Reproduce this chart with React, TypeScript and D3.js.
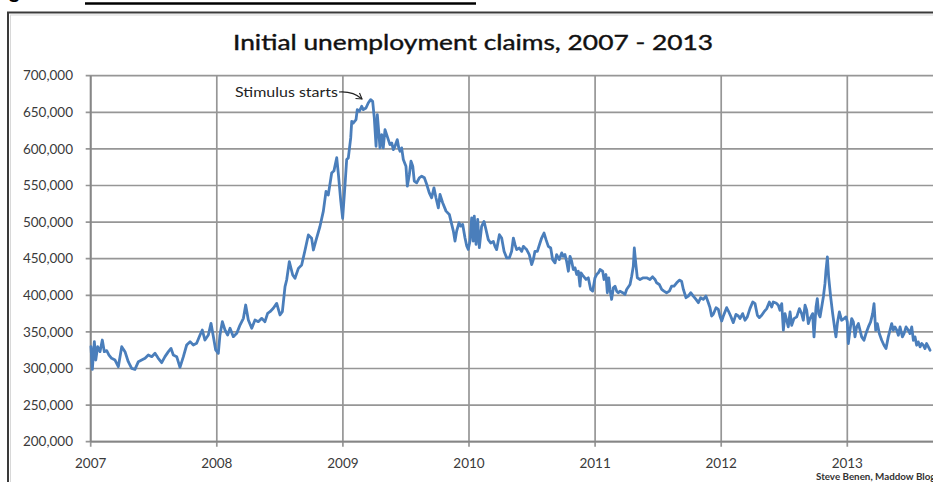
import React from "react";
import * as d3 from "d3";

const years = [
  2007.002, 2007.013, 2007.029, 2007.040, 2007.055, 2007.074, 2007.092, 2007.108, 2007.127, 2007.145,
  2007.166, 2007.193, 2007.219, 2007.246, 2007.272, 2007.298, 2007.325, 2007.351, 2007.378, 2007.404,
  2007.431, 2007.457, 2007.484, 2007.510, 2007.536, 2007.563, 2007.589, 2007.616, 2007.637, 2007.655,
  2007.682, 2007.708, 2007.735, 2007.761, 2007.788, 2007.814, 2007.840, 2007.867, 2007.885, 2007.906,
  2007.933, 2007.954, 2007.973, 2007.991, 2008.012, 2008.025, 2008.044, 2008.065, 2008.086, 2008.105,
  2008.131, 2008.158, 2008.184, 2008.211, 2008.229, 2008.250, 2008.277, 2008.303, 2008.329, 2008.356,
  2008.382, 2008.403, 2008.422, 2008.448, 2008.475, 2008.501, 2008.520, 2008.541, 2008.554, 2008.575,
  2008.602, 2008.620, 2008.647, 2008.673, 2008.700, 2008.726, 2008.752, 2008.766, 2008.787, 2008.818,
  2008.845, 2008.866, 2008.884, 2008.911, 2008.929, 2008.951, 2008.964, 2008.983, 2008.998, 2009.017,
  2009.030, 2009.043, 2009.062, 2009.070, 2009.083, 2009.104, 2009.114, 2009.130, 2009.149, 2009.162,
  2009.183, 2009.201, 2009.220, 2009.236, 2009.249, 2009.263, 2009.273, 2009.284, 2009.294, 2009.308,
  2009.320, 2009.334, 2009.347, 2009.360, 2009.373, 2009.387, 2009.400, 2009.413, 2009.431, 2009.443,
  2009.453, 2009.466, 2009.479, 2009.500, 2009.511, 2009.527, 2009.540, 2009.554, 2009.566, 2009.585,
  2009.606, 2009.625, 2009.646, 2009.665, 2009.685, 2009.704, 2009.722, 2009.738, 2009.757, 2009.770,
  2009.791, 2009.818, 2009.844, 2009.863, 2009.876, 2009.889, 2009.902, 2009.921, 2009.934, 2009.950,
  2009.968, 2009.982, 2009.994, 2010.008, 2010.021, 2010.034, 2010.042, 2010.056, 2010.069, 2010.082,
  2010.100, 2010.119, 2010.135, 2010.153, 2010.172, 2010.193, 2010.206, 2010.219, 2010.241, 2010.259,
  2010.278, 2010.299, 2010.320, 2010.338, 2010.352, 2010.365, 2010.378, 2010.399, 2010.418, 2010.431,
  2010.444, 2010.457, 2010.478, 2010.497, 2010.510, 2010.523, 2010.542, 2010.563, 2010.576, 2010.595,
  2010.611, 2010.629, 2010.648, 2010.663, 2010.682, 2010.695, 2010.716, 2010.735, 2010.748, 2010.761,
  2010.774, 2010.788, 2010.801, 2010.814, 2010.827, 2010.841, 2010.854, 2010.867, 2010.880, 2010.888,
  2010.907, 2010.928, 2010.946, 2010.965, 2010.981, 2010.999, 2011.012, 2011.026, 2011.039, 2011.060,
  2011.071, 2011.086, 2011.097, 2011.108, 2011.118, 2011.131, 2011.145, 2011.158, 2011.171, 2011.184,
  2011.197, 2011.219, 2011.237, 2011.250, 2011.277, 2011.290, 2011.303, 2011.311, 2011.322, 2011.335,
  2011.356, 2011.382, 2011.409, 2011.435, 2011.456, 2011.475, 2011.488, 2011.509, 2011.528, 2011.546,
  2011.567, 2011.589, 2011.607, 2011.626, 2011.647, 2011.668, 2011.686, 2011.700, 2011.721, 2011.739,
  2011.758, 2011.779, 2011.800, 2011.819, 2011.837, 2011.858, 2011.879, 2011.898, 2011.911, 2011.924,
  2011.937, 2011.959, 2011.977, 2011.990, 2012.004, 2012.017, 2012.043, 2012.057, 2012.075, 2012.096,
  2012.117, 2012.136, 2012.149, 2012.170, 2012.189, 2012.207, 2012.228, 2012.250, 2012.268, 2012.287,
  2012.302, 2012.321, 2012.339, 2012.361, 2012.382, 2012.400, 2012.413, 2012.435, 2012.453, 2012.466,
  2012.480, 2012.493, 2012.506, 2012.519, 2012.532, 2012.546, 2012.559, 2012.577, 2012.599, 2012.620,
  2012.638, 2012.651, 2012.665, 2012.678, 2012.691, 2012.704, 2012.725, 2012.736, 2012.752, 2012.762,
  2012.773, 2012.784, 2012.797, 2012.810, 2012.823, 2012.831, 2012.842, 2012.852, 2012.868, 2012.884,
  2012.902, 2012.910, 2012.921, 2012.937, 2012.955, 2012.974, 2012.990, 2013.000, 2013.008, 2013.021,
  2013.035, 2013.048, 2013.061, 2013.074, 2013.088, 2013.101, 2013.114, 2013.132, 2013.148, 2013.167,
  2013.185, 2013.201, 2013.212, 2013.225, 2013.238, 2013.254, 2013.273, 2013.291, 2013.307, 2013.325,
  2013.339, 2013.352, 2013.365, 2013.378, 2013.392, 2013.405, 2013.418, 2013.437, 2013.450, 2013.466,
  2013.484, 2013.497, 2013.511, 2013.524, 2013.537, 2013.550, 2013.563, 2013.577, 2013.590, 2013.603,
  2013.616, 2013.629, 2013.643, 2013.656,
];

// Initial claims, thousands
const claimsK = [
  329.8, 298.9, 336.7, 311.6, 329.8, 323.0, 338.9, 323.0, 324.4, 318.4,
  313.9, 311.6, 302.5, 329.8, 323.0, 309.3, 300.2, 298.9, 309.3, 311.6,
  313.9, 318.4, 316.2, 320.7, 313.9, 308.0, 316.2, 323.0, 327.5, 318.4,
  316.2, 301.6, 316.2, 332.1, 336.7, 332.1, 334.4, 345.8, 352.6, 338.9,
  345.8, 361.7, 343.5, 325.3, 320.7, 345.8, 364.0, 352.6, 345.8, 354.9,
  343.5, 348.0, 359.4, 368.5, 386.7, 366.3, 354.9, 366.3, 364.0, 368.5,
  364.0, 375.4, 377.6, 382.2, 389.0, 373.1, 377.6, 411.8, 420.9, 445.9,
  427.7, 423.2, 436.8, 441.4, 461.9, 482.4, 477.8, 461.9, 475.5, 494.0,
  515.0, 542.0, 537.0, 567.0, 570.0, 588.0, 566.0, 529.0, 505.0, 551.4,
  585.5, 587.7, 615.0, 637.7, 635.5, 640.0, 653.6, 651.4, 658.2, 653.6,
  655.9, 662.7, 667.3, 665.0, 642.3, 603.6, 646.8, 624.1, 601.4, 619.5,
  601.4, 626.4, 619.5, 612.7, 605.9, 608.2, 599.1, 603.6, 612.7, 601.4,
  596.8, 601.4, 585.5, 576.4, 549.1, 565.0, 583.2, 576.4, 555.9, 553.6,
  560.5, 562.7, 560.5, 551.4, 540.0, 533.2, 546.8, 533.2, 519.5, 537.7,
  526.4, 515.0, 510.5, 496.8, 487.7, 474.1, 487.7, 499.1, 494.5, 496.8,
  478.6, 467.3, 462.7, 474.1, 505.9, 474.1, 508.2, 469.6, 503.6, 465.0,
  494.1, 500.9, 489.6, 476.0, 471.4, 473.7, 466.9, 462.4, 482.8, 478.2,
  460.1, 451.1, 451.1, 460.1, 478.2, 469.2, 462.4, 464.6, 460.1, 466.9,
  464.6, 462.4, 455.6, 442.0, 448.8, 460.1, 460.1, 471.4, 478.2, 485.0,
  476.0, 466.9, 464.6, 448.8, 444.3, 455.6, 448.8, 457.9, 453.3, 455.6,
  446.5, 432.9, 453.3, 446.5, 435.2, 437.5, 428.4, 432.9, 412.5, 430.7,
  426.1, 421.6, 423.9, 408.0, 405.7, 423.9, 428.4, 430.7, 435.2, 432.9,
  421.6, 428.4, 403.5, 423.9, 408.0, 394.4, 410.3, 412.5, 405.7, 403.5,
  405.7, 403.5, 401.2, 408.0, 414.8, 426.1, 439.7, 464.6, 444.3, 423.9,
  421.6, 423.9, 423.9, 421.6, 425.2, 421.6, 417.1, 414.8, 408.0, 405.7,
  403.5, 405.7, 412.5, 412.5, 417.1, 420.7, 419.3, 408.0, 396.7, 398.9,
  403.5, 398.9, 394.4, 389.9, 396.7, 394.4, 398.9, 389.9, 383.1, 371.7,
  374.0, 383.1, 380.8, 371.7, 364.9, 371.7, 383.1, 378.5, 371.7, 362.7,
  374.0, 371.7, 368.2, 375.0, 365.9, 370.5, 381.8, 390.9, 388.6, 372.7,
  369.5, 372.7, 377.3, 381.8, 390.9, 384.1, 390.9, 389.5, 386.4, 379.6,
  388.6, 352.3, 375.0, 365.9, 356.8, 377.3, 359.1, 368.2, 370.5, 381.8,
  375.0, 365.9, 386.4, 379.6, 361.4, 368.2, 375.0, 343.2, 384.1, 395.5,
  375.0, 370.5, 384.1, 397.7, 415.9, 434.1, 452.3, 425.0, 397.7, 375.0,
  352.3, 343.2, 361.4, 377.3, 365.9, 368.2, 370.5, 363.6, 334.1, 352.3,
  368.2, 363.6, 343.2, 356.8, 361.4, 352.3, 343.2, 338.6, 347.7, 356.8,
  363.6, 375.0, 388.6, 352.3, 361.4, 347.7, 338.6, 331.8, 327.3, 343.2,
  352.3, 361.4, 352.3, 356.8, 352.3, 345.5, 356.8, 343.2, 347.7, 356.8,
  352.3, 347.7, 356.8, 338.6, 343.2, 331.8, 336.4, 329.5, 334.1, 331.8,
  327.3, 334.1, 329.5, 325.0,
];

const yTicks = [200000, 250000, 300000, 350000, 400000, 450000, 500000, 550000, 600000, 650000, 700000];
const xTicks = [2007, 2008, 2009, 2010, 2011, 2012, 2013];
const titleText = "Initial unemployment claims, 2007 - 2013";
const annotationText = "Stimulus starts";
const creditText = "Steve Benen, Maddow Blog";

const FONT = "Lato, 'Open Sans', sans-serif";

export default function App() {
  const W = 933;
  const H = 482;
  const left = 90.7;
  const right = 933;
  const top = 75.7;
  const bottom = 441.7;

  const x = d3.scaleLinear().domain([2007, 2007 + (right - left) / 126.1]).range([left, right]);
  const y = d3.scaleLinear().domain([200000, 700000]).range([bottom, top]);

  const data = years.map((t, i) => ({ t, v: claimsK[i] * 1000 }));
  const line = d3
    .line<{ t: number; v: number }>()
    .x((d) => x(d.t))
    .y((d) => y(d.v));

  const fmt = d3.format(",");
  const gridColor = "#969696";

  return (
    <svg
      width={W}
      height={H}
      style={{ position: "absolute", left: 0, top: 0, display: "block", background: "#fff" }}
    >
      {/* cut-off document heading */}
      <text x={9} y={-2} fontFamily={FONT} fontWeight="bold" fontSize={20} fill="#000">
        g
      </text>
      <line x1={85} x2={476} y1={3.5} y2={3.5} stroke="#000" strokeWidth={2.5} />

      {/* chart frame */}
      <rect x={8} y={12.5} width={940} height={490} fill="#fff" stroke="#3a3a3a" strokeWidth={2} />
      <rect x={10.5} y={15} width={935} height={485} fill="none" stroke="#d8d8d8" strokeWidth={1} />

      {/* title */}
      <text
        x={473}
        y={50}
        textAnchor="middle"
        fontFamily={FONT}
        fontSize={22}
        fill="#111"
        stroke="#111"
        strokeWidth={0.4}
        textLength={480}
        lengthAdjust="spacingAndGlyphs"
      >
        {titleText}
      </text>

      {/* horizontal gridlines + y ticks */}
      {yTicks.map((t) => (
        <g key={t}>
          <line x1={left - 5} x2={right} y1={y(t)} y2={y(t)} stroke={gridColor} strokeWidth={1.7} />
          <text
            x={73}
            y={y(t)}
            dy="0.35em"
            textAnchor="end"
            fontFamily={FONT}
            fontSize={13.5}
            fill="#3a3a3a"
          >
            {fmt(t)}
          </text>
        </g>
      ))}

      {/* vertical gridlines + x ticks */}
      {xTicks.map((t) => (
        <g key={t}>
          <line x1={x(t)} x2={x(t)} y1={top} y2={bottom + 5} stroke={gridColor} strokeWidth={1.7} />
          <text
            x={x(t)}
            y={468}
            textAnchor="middle"
            fontFamily={FONT}
            fontSize={13.5}
            fill="#3a3a3a"
          >
            {t}
          </text>
        </g>
      ))}

      {/* axes */}
      <line x1={left} x2={left} y1={top} y2={bottom} stroke="#868686" strokeWidth={1.8} />
      <line x1={left} x2={right} y1={bottom} y2={bottom} stroke="#868686" strokeWidth={1.8} />

      {/* data line */}
      <path
        d={line(data) || ""}
        fill="none"
        stroke="#4a7ebb"
        strokeWidth={2.8}
        strokeLinejoin="round"
        strokeLinecap="round"
      />

      {/* annotation */}
      <text
        x={235}
        y={96.5}
        fontFamily={FONT}
        fontSize={14}
        fill="#222"
        textLength={103}
        lengthAdjust="spacingAndGlyphs"
      >
        {annotationText}
      </text>
      <path d="M339,92 Q353,91 362,99" fill="none" stroke="#222" strokeWidth={1.1} />
      <path d="M355.5,98.5 L362,99 L359.5,93" fill="none" stroke="#222" strokeWidth={1.1} />

      {/* credit */}
      <text x={816} y={480} fontFamily={FONT} fontSize={9.8} fontWeight="bold" fill="#333">
        {creditText}
      </text>
    </svg>
  );
}
